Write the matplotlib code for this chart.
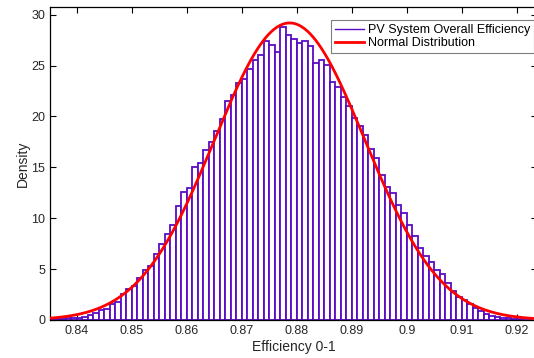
import numpy as np
import matplotlib
matplotlib.use("Agg")
import matplotlib.pyplot as plt
from matplotlib.lines import Line2D

plt.rcParams['font.family'] = ['Liberation Sans', 'DejaVu Sans']

# Histogram data (density per bin of width 0.001 starting at 0.835)
bin_start = 0.835
bin_width = 0.001
density = [
    0.10, 0.10, 0.13, 0.15, 0.22, 0.15, 0.30, 0.50, 0.65, 1.00,
    1.10, 1.55, 1.80, 2.60, 3.00, 3.35, 4.10, 4.90, 5.30, 6.50,
    7.50, 8.40, 9.35, 11.20, 12.55, 13.00, 15.00, 15.40, 16.70, 17.50,
    18.60, 19.70, 21.50, 22.10, 23.30, 23.65, 24.70, 25.50, 26.00, 27.45,
    27.06, 26.30, 28.80, 27.97, 27.60, 27.25, 27.40, 26.90, 25.20, 25.50,
    25.06, 23.40, 22.90, 21.90, 21.05, 19.80, 19.10, 18.20, 16.80, 15.95,
    14.25, 13.10, 12.50, 11.30, 10.50, 9.35, 8.30, 7.10, 6.25, 5.70,
    4.95, 4.50, 3.65, 2.84, 2.26, 2.00, 1.60, 1.20, 0.87, 0.55,
    0.42, 0.32, 0.23, 0.16, 0.10, 0.06, 0.04, 0.03,
]

# Fitted normal distribution parameters
mu = 0.8787
sigma = 0.01367

x_ticks = [0.84, 0.85, 0.86, 0.87, 0.88, 0.89, 0.90, 0.91, 0.92]
x_tick_labels = ["0.84", "0.85", "0.86", "0.87", "0.88", "0.89", "0.9", "0.91", "0.92"]
y_ticks = [0, 5, 10, 15, 20, 25, 30]
y_tick_labels = ["0", "5", "10", "15", "20", "25", "30"]

legend_labels = ["PV System Overall Efficiency", "Normal Distribution"]

purple = '#5a0cc4'
red = '#ff0000'
textc = '#262626'

fig = plt.figure(figsize=(5.34, 3.58), dpi=100)
ax = fig.add_axes([50/534, 1 - 320/358, 487/534, 313/358])

lefts = bin_start + bin_width * np.arange(len(density))
ax.bar(lefts, density, width=bin_width, align='edge', facecolor='white',
       edgecolor=purple, linewidth=1.3, zorder=2)

xs = np.linspace(0.83, 0.93, 600)
pdf = np.exp(-0.5 * ((xs - mu) / sigma) ** 2) / (sigma * np.sqrt(2 * np.pi))
ax.plot(xs, pdf, color=red, linewidth=2.0, zorder=3)

ax.set_xlim(0.8351, 0.9237)
ax.set_ylim(0, 30.75)
ax.set_xticks(x_ticks)
ax.set_xticklabels(x_tick_labels)
ax.set_yticks(y_ticks)
ax.set_yticklabels(y_tick_labels)
ax.tick_params(direction='in', length=4, width=0.8, top=True, right=True,
               labelsize=9, colors='black', labelcolor=textc, pad=3.5)
for sp in ax.spines.values():
    sp.set_linewidth(0.9)
    sp.set_color('black')

ax.set_xlabel("Efficiency 0-1", fontsize=10, color=textc, labelpad=2)
ax.set_ylabel("Density", fontsize=10, color=textc, labelpad=1)

handles = [Line2D([], [], color=purple, linewidth=1.0),
           Line2D([], [], color=red, linewidth=2.0)]
leg = ax.legend(handles, legend_labels, loc='upper right',
                bbox_to_anchor=(0.993, 0.958), borderaxespad=0,
                fontsize=9, fancybox=False, framealpha=1, edgecolor='#7f7f7f',
                handlelength=2.3, handletextpad=0.3, borderpad=0.3,
                labelspacing=0.12)
leg.get_frame().set_linewidth(0.8)
for t in leg.get_texts():
    t.set_color('black')

fig.savefig("out.png", dpi=100)
